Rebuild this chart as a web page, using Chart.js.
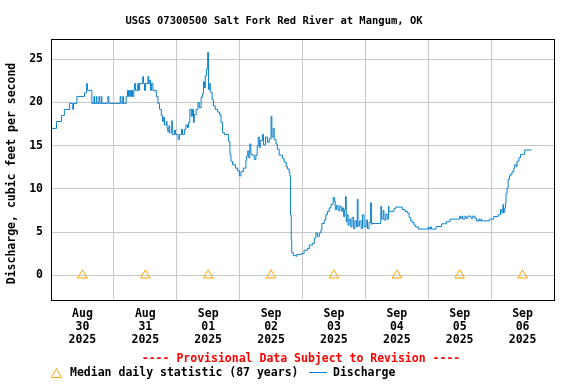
<!DOCTYPE html>
<html><head><meta charset="utf-8">
<script src="https://cdn.jsdelivr.net/npm/chart.js@4"></script>
<style>html,body{margin:0;padding:0;background:#fff}canvas{display:block}</style>
</head><body>
<canvas id="c" width="576" height="384"></canvas>
<script>
// hours since 2025-08-30 00:00
const hours = [0,2.1,4.0,5.1,7.1,8.3,8.6,9.9,12.8,13.6,13.9,15.6,16.4,16.6,17.3,17.5,18.3,18.6,19.2,19.4,21.7,22.1,26.4,26.7,27.4,27.7,28.7,29.2,29.6,30.0,30.4,30.7,31.1,31.6,31.9,32.3,33.1,33.4,33.8,35.0,35.3,35.7,36.1,37.0,37.3,37.7,38.0,38.4,38.9,40.2,40.8,41.4,42.1,42.6,43.0,43.3,44.0,44.3,44.6,45.0,45.3,46.1,46.3,47.1,47.5,48.5,49.0,49.8,50.2,51.0,51.5,52.1,52.5,53.0,53.6,54.0,54.4,54.7,55.4,56.1,56.6,57.3,57.8,58.2,58.6,58.9,59.4,59.8,60.1,60.4,60.8,61.5,62.0,62.7,63.6,64.3,64.9,65.5,66.2,67.8,68.3,68.7,69.3,70.4,71.2,71.9,72.5,73.4,74.4,74.7,75.1,75.5,75.9,76.3,76.8,77.6,78.2,78.7,79.1,79.5,79.9,80.7,81.1,81.9,82.6,83.3,84.0,84.3,84.8,85.2,85.9,86.4,87.1,88.4,89.0,89.8,90.3,90.9,91.2,91.4,91.7,91.9,92.5,93.5,93.8,95.5,96.6,97.9,98.6,99.8,100.5,101.1,101.7,102.4,103.0,103.4,104.3,104.9,105.5,106.2,106.9,107.7,108.2,108.5,109.0,109.6,110.2,110.8,111.2,111.7,112.1,112.4,112.7,113.0,113.4,113.8,114.4,114.9,115.5,116.0,116.6,116.9,117.2,117.8,118.4,118.9,119.5,120.3,120.8,121.4,122.0,122.3,122.5,125.9,126.2,126.8,127.1,127.8,128.3,128.8,129.0,130.9,131.6,134.1,135.1,136.0,136.7,137.3,137.9,138.6,139.2,140.2,144.0,144.3,144.9,145.2,147.0,149.1,150.9,152.3,156.0,156.3,156.9,157.2,158.0,158.4,159.1,160.3,161.0,161.8,162.4,163.3,163.6,164.1,164.3,167.4,169.0,170.7,171.6,172.1,172.5,172.7,173.2,173.5,173.7,174.1,174.5,175.0,175.4,176.0,176.7,177.0,177.6,177.9,178.6,179.2,180.8,183.4];
const discharge = [17.0,17.8,18.5,19.2,19.9,19.2,19.9,20.7,21.1,22.2,21.4,19.9,20.7,19.9,20.7,19.9,20.7,19.9,20.7,19.9,20.7,19.9,20.7,19.9,20.7,19.9,20.7,21.4,20.7,21.4,20.7,21.4,20.7,21.4,22.2,21.4,22.2,21.4,22.2,23.0,22.2,21.4,22.2,23.0,22.2,22.6,21.4,22.2,21.4,20.7,19.9,19.2,18.5,17.8,18.3,17.4,17.8,17.0,16.6,17.3,16.5,17.9,16.3,16.8,16.3,15.7,16.3,16.9,16.3,16.9,17.4,17.1,17.7,19.2,18.4,19.2,17.7,18.6,19.2,20.0,19.4,20.6,21.0,22.4,21.7,23.1,23.9,25.8,21.5,22.2,21.2,20.3,19.6,19.2,18.9,18.6,17.7,16.5,16.3,15.5,14.0,13.2,12.8,12.4,12.1,11.5,12.0,12.4,13.3,13.8,14.4,13.6,15.2,14.0,13.9,13.4,13.9,15.0,16.0,14.8,15.6,16.3,15.1,16.0,15.4,15.8,18.4,16.0,17.0,15.7,15.2,14.6,13.9,13.5,13.1,12.6,12.3,11.9,11.5,7.0,4.1,2.6,2.3,2.2,2.4,2.5,2.9,3.1,3.5,3.7,4.3,4.9,4.5,4.9,5.2,6.0,6.4,7.0,7.4,7.8,8.2,9.0,8.6,7.6,8.1,7.5,8.0,7.4,7.8,6.8,7.6,9.1,6.2,7.0,5.8,6.5,5.6,6.7,5.4,6.3,5.6,8.8,5.7,6.3,5.4,7.0,5.6,6.4,5.4,6.1,8.4,5.9,6.0,8.0,6.5,7.5,6.4,7.1,6.5,8.0,7.4,7.7,7.9,7.6,7.4,7.2,6.7,6.3,6.1,5.8,5.6,5.35,5.6,5.35,5.6,5.35,5.65,5.96,6.2,6.5,6.85,6.6,6.85,6.5,6.85,6.6,6.85,6.6,6.85,6.6,6.3,6.5,6.3,6.5,6.3,6.5,6.8,7.0,7.6,7.2,8.2,7.3,7.8,8.4,9.5,10.1,11.1,11.5,11.7,12.0,12.4,12.8,12.6,13.2,13.6,14.0,14.5,14.5];
const medianHours = [12,36,60,84,108,132,156,180];
const medianValues = [0,0,0,0,0,0,0,0];
const dayLabels = [['Aug','30','2025'],['Aug','31','2025'],['Sep','01','2025'],['Sep','02','2025'],['Sep','03','2025'],['Sep','04','2025'],['Sep','05','2025'],['Sep','06','2025']];
const yTickValues = [0,5,10,15,20,25];
const titleText = 'USGS 07300500 Salt Fork Red River at Mangum, OK';
const yTitle = 'Discharge, cubic feet per second';
const provisionalText = '---- Provisional Data Subject to Revision ----';
const legendMedian = 'Median daily statistic (87 years)';
const legendDischarge = 'Discharge';

const FONT = '"DejaVu Sans Mono", monospace';
const LINE = '#0a80d0';
const ORANGE = '#ffa500';

const textPlugin = {
  id: 'texts',
  afterDraw(chart) {
    const ctx = chart.ctx;
    const a = chart.chartArea;
    ctx.save();
    ctx.strokeStyle = '#000';
    ctx.lineWidth = 1;
    ctx.strokeRect(a.left + 0.5, a.top + 0.5, a.right - a.left, a.bottom - a.top);
    ctx.fillStyle = '#000';
    ctx.textAlign = 'center';
    ctx.textBaseline = 'middle';
    ctx.font = 'bold 10.5px ' + FONT;
    ctx.fillText(titleText, 274, 21);
    ctx.font = 'bold 11.5px ' + FONT;
    ctx.fillStyle = '#ff0000';
    ctx.fillText(provisionalText, 301, 359.5);
    ctx.fillStyle = '#000';
    ctx.textAlign = 'left';
    ctx.fillText(legendMedian, 70, 373);
    ctx.fillText(legendDischarge, 333, 373);
    // legend triangle
    ctx.strokeStyle = ORANGE;
    ctx.beginPath();
    ctx.moveTo(51.5, 377.5); ctx.lineTo(61.5, 377.5); ctx.lineTo(56.5, 368.5); ctx.closePath();
    ctx.stroke();
    // legend line
    ctx.strokeStyle = LINE;
    ctx.beginPath(); ctx.moveTo(309, 372.5); ctx.lineTo(327, 372.5); ctx.stroke();
    // y title
    ctx.translate(12, 173.5);
    ctx.rotate(-Math.PI / 2);
    ctx.textAlign = 'center';
    ctx.fillStyle = '#000';
    ctx.fillText(yTitle, 0, 0);
    ctx.restore();
  }
};

new Chart(document.getElementById('c'), {
  type: 'line',
  data: {
    datasets: [
      {
        label: 'Discharge',
        data: hours.map((h, i) => ({ x: h, y: discharge[i] })),
        borderColor: LINE,
        borderWidth: 1,
        stepped: true,
        pointRadius: 0,
        fill: false,
        order: 2
      },
      {
        label: 'Median daily statistic (87 years)',
        data: medianHours.map((h, i) => ({ x: h, y: medianValues[i] })),
        showLine: false,
        pointStyle: 'triangle',
        pointRadius: 5.5,
        borderColor: ORANGE,
        backgroundColor: 'rgba(255,255,255,0)',
        borderWidth: 1,
        order: 1
      }
    ]
  },
  options: {
    responsive: false,
    animation: false,
    layout: { padding: { left: 0, top: 39, right: 22, bottom: 0 } },
    plugins: { legend: { display: false }, title: { display: false }, tooltip: { enabled: false } },
    scales: {
      x: {
        type: 'linear',
        min: 0,
        max: 192,
        afterFit(s) { s.height = 84; },
        afterBuildTicks(s) { s.ticks = medianHours.map(v => ({ value: v })); },
        grid: { color: '#c8c8c8', offset: true, drawTicks: false, lineWidth: 1 },
        border: { display: false },
        ticks: {
          color: '#000',
          padding: 7,
          maxRotation: 0,
          autoSkip: false,
          font: { family: FONT, size: 11.5, weight: 'bold', lineHeight: '13.3px' },
          callback(v, i) { return dayLabels[i]; }
        }
      },
      y: {
        type: 'linear',
        min: -2.86,
        max: 27.35,
        afterFit(s) { s.width = 51; },
        afterBuildTicks(s) { s.ticks = yTickValues.map(v => ({ value: v })); },
        grid: { color: '#c8c8c8', drawTicks: false, lineWidth: 1 },
        border: { display: false },
        ticks: {
          color: '#000',
          padding: 8,
          font: { family: FONT, size: 11.5, weight: 'bold' },
          callback(v) { return String(v); }
        }
      }
    }
  },
  plugins: [textPlugin]
});
</script>
</body></html>
